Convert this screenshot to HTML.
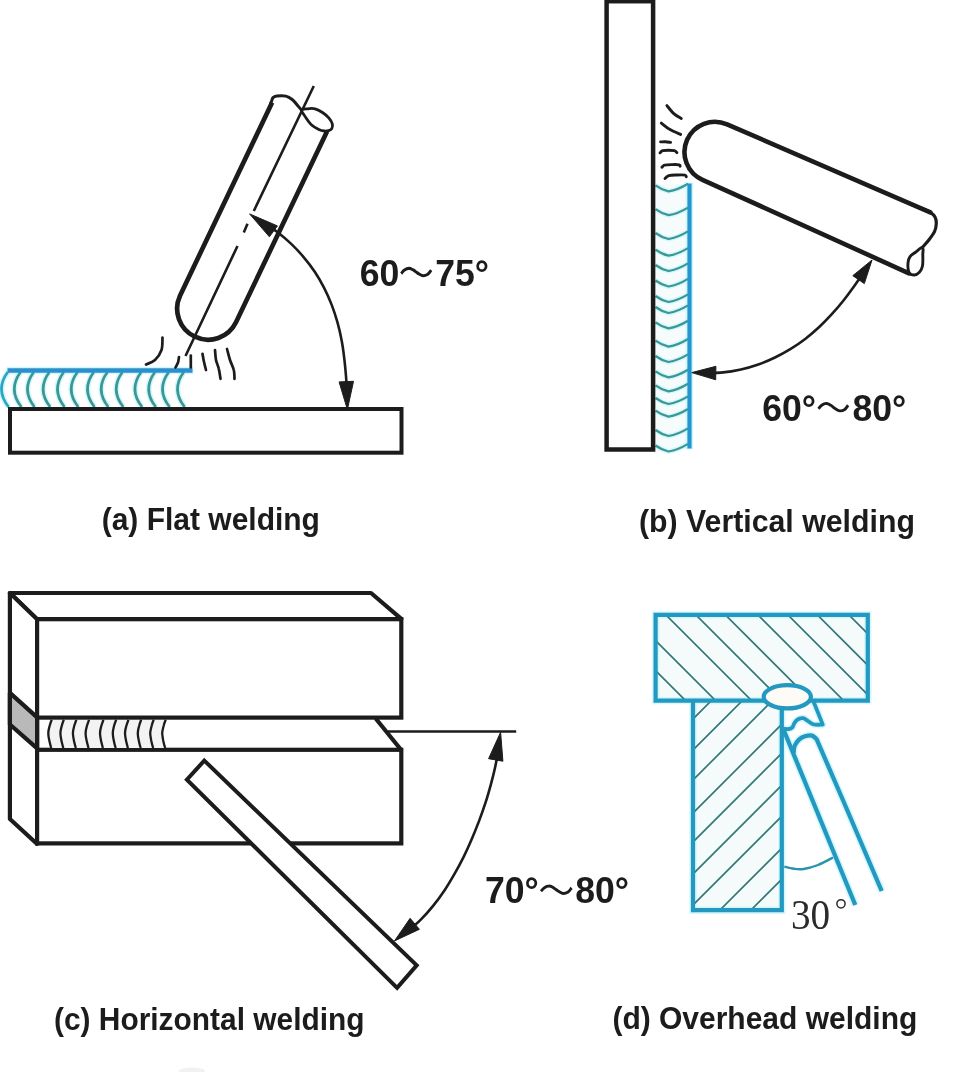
<!DOCTYPE html>
<html><head><meta charset="utf-8"><title>Welding positions</title>
<style>
html,body{margin:0;padding:0;background:#fff;}
body{width:960px;height:1072px;overflow:hidden;font-family:"Liberation Sans",sans-serif;}
svg{display:block;will-change:transform;}
</style></head><body>
<svg width="960" height="1072" viewBox="0 0 960 1072">
<rect width="960" height="1072" fill="#ffffff"/>
<ellipse cx="192" cy="1071" rx="13" ry="3.5" fill="#f1f1f1"/>
<path d="M7.8,372Q-5.2,389.5 8.6,407" fill="none" stroke="#c6f5fb" stroke-width="5.6" opacity="0.8"/>
<path d="M20.6,372Q7.6,389.5 21.4,407" fill="none" stroke="#c6f5fb" stroke-width="5.6" opacity="0.8"/>
<path d="M33.8,372Q20.8,389.5 34.5,407" fill="none" stroke="#c6f5fb" stroke-width="5.6" opacity="0.8"/>
<path d="M49.4,372Q36.4,389.5 50.2,407" fill="none" stroke="#c6f5fb" stroke-width="5.6" opacity="0.8"/>
<path d="M63.8,372Q50.8,389.5 64.5,407" fill="none" stroke="#c6f5fb" stroke-width="5.6" opacity="0.8"/>
<path d="M77.5,372Q64.5,389.5 78.3,407" fill="none" stroke="#c6f5fb" stroke-width="5.6" opacity="0.8"/>
<path d="M93.8,372Q80.8,389.5 94.5,407" fill="none" stroke="#c6f5fb" stroke-width="5.6" opacity="0.8"/>
<path d="M107.5,372Q94.5,389.5 108.3,407" fill="none" stroke="#c6f5fb" stroke-width="5.6" opacity="0.8"/>
<path d="M122.5,372Q109.5,389.5 123.3,407" fill="none" stroke="#c6f5fb" stroke-width="5.6" opacity="0.8"/>
<path d="M141.2,372Q128.2,389.5 142.1,407" fill="none" stroke="#c6f5fb" stroke-width="5.6" opacity="0.8"/>
<path d="M155,372Q142,389.5 155.8,407" fill="none" stroke="#c6f5fb" stroke-width="5.6" opacity="0.8"/>
<path d="M168.8,372Q155.8,389.5 169.6,407" fill="none" stroke="#c6f5fb" stroke-width="5.6" opacity="0.8"/>
<path d="M183.8,372Q170.8,389.5 184.6,407" fill="none" stroke="#c6f5fb" stroke-width="5.6" opacity="0.8"/>
<path d="M6.5,370.5H193.5" fill="none" stroke="#c6f5fb" stroke-width="7.6" opacity="0.8"/>
<path d="M7.8,372Q-5.2,389.5 8.6,407" fill="none" stroke="#2aa6c4" stroke-width="2.7" />
<path d="M20.6,372Q7.6,389.5 21.4,407" fill="none" stroke="#3a9796" stroke-width="2.7" />
<path d="M33.8,372Q20.8,389.5 34.5,407" fill="none" stroke="#3a9796" stroke-width="2.7" />
<path d="M49.4,372Q36.4,389.5 50.2,407" fill="none" stroke="#3a9796" stroke-width="2.7" />
<path d="M63.8,372Q50.8,389.5 64.5,407" fill="none" stroke="#3a9796" stroke-width="2.7" />
<path d="M77.5,372Q64.5,389.5 78.3,407" fill="none" stroke="#3a9796" stroke-width="2.7" />
<path d="M93.8,372Q80.8,389.5 94.5,407" fill="none" stroke="#3a9796" stroke-width="2.7" />
<path d="M107.5,372Q94.5,389.5 108.3,407" fill="none" stroke="#3a9796" stroke-width="2.7" />
<path d="M122.5,372Q109.5,389.5 123.3,407" fill="none" stroke="#3a9796" stroke-width="2.7" />
<path d="M141.2,372Q128.2,389.5 142.1,407" fill="none" stroke="#3a9796" stroke-width="2.7" />
<path d="M155,372Q142,389.5 155.8,407" fill="none" stroke="#3a9796" stroke-width="2.7" />
<path d="M168.8,372Q155.8,389.5 169.6,407" fill="none" stroke="#3a9796" stroke-width="2.7" />
<path d="M183.8,372Q170.8,389.5 184.6,407" fill="none" stroke="#3a9796" stroke-width="2.7" />
<path d="M7.5,370.5H192.5" fill="none" stroke="#2b8fce" stroke-width="4.5" />
<rect x="10" y="409" width="391.5" height="43.7" fill="#fff" stroke="#1c1c1c" stroke-width="4"/>
<path d="M272.1,102.5L180,295.7A31,31 0 0 0 236,322.3L327,131.4" fill="#fff" stroke="#1c1c1c" stroke-width="4.7" stroke-linecap="butt"/>
<path d="M270.6,103.4C270.8,103.1 271.1,102.4 271.5,101.4C271.9,100.4 272.1,98.5 273,97.6C273.9,96.7 274.7,96.2 276.8,96C278.9,95.8 283.3,95.5 285.9,96.1C288.5,96.7 290.6,98.3 292.5,99.8C294.4,101.3 295.7,103.2 297.2,105C298.7,106.8 300.9,109.4 301.6,110.3" fill="none" stroke="#1c1c1c" stroke-width="3" stroke-linecap="round"/>
<path d="M301.6,110.3C301.9,108.9 305.3,109 307.5,108.8C309.7,108.5 312.5,108.2 315,108.8C317.5,109.4 320.2,111 322.5,112.5C324.8,114 327.4,116.2 329,118.1C330.6,120 331.8,122 332.3,123.8C332.8,125.5 332.4,127.5 331.8,128.6C331.2,129.7 329.8,130.2 328.6,130.6C327.4,131 326,131.2 324.4,131C322.8,130.8 321,130.5 318.8,129.4C316.6,128.3 313.5,126.7 311.3,124.7C309.1,122.7 307.2,119.6 305.6,117.2C304,114.8 301.3,111.7 301.6,110.3Z" fill="none" stroke="#1c1c1c" stroke-width="2.8" />
<path d="M313.8,86L253.8,211M247.5,223.8L243.8,232.5M237.5,246L185.5,356" fill="none" stroke="#1c1c1c" stroke-width="2.6" />
<path d="M261.8,221.1C264.3,222.9 272.1,228 277,231.8C281.9,235.6 286.7,239.7 291.2,243.9C295.7,248.2 299.9,252.6 303.8,257.3C307.8,262 311.5,266.9 314.9,272C318.3,277.1 321.3,282.4 324.1,287.8C326.9,293.2 329.4,298.9 331.6,304.6C333.8,310.3 335.7,316.2 337.4,322.1C339.1,328.1 340.5,334.2 341.6,340.3C342.8,346.4 343.6,352.7 344.3,358.9C345.1,365.1 345.6,371.3 346.1,377.5C346.6,383.7 346.9,392.8 347.1,395.9" fill="none" stroke="#1c1c1c" stroke-width="2.6" />
<path d="M249.6,213.9L277.4,225.9L269.4,236.8Z" fill="#1c1c1c" stroke="#1c1c1c" stroke-width="1" stroke-linejoin="miter"/>
<path d="M347.4,409.6L339.1,381.9L353.5,381.3Z" fill="#1c1c1c" stroke="#1c1c1c" stroke-width="1" stroke-linejoin="miter"/>
<path d="M162.5,337.5C162.3,339.6 162.8,346.2 161.5,350C160.2,353.8 157.6,357.6 155,360C152.4,362.4 147.5,363.8 146,364.5" fill="none" stroke="#1c1c1c" stroke-width="2.7" stroke-linecap="round"/>
<path d="M179,357C178.8,357.9 178.6,360.8 178,362.5C177.4,364.2 175.9,366.7 175.5,367.5" fill="none" stroke="#1c1c1c" stroke-width="2.7" stroke-linecap="round"/>
<path d="M190.8,355.5C190.8,357.5 190.8,365.5 190.8,367.5" fill="none" stroke="#1c1c1c" stroke-width="2.7" stroke-linecap="round"/>
<path d="M202.5,353.8C202.7,355 203.2,358.3 203.8,361C204.4,363.7 205.6,368.5 206,370" fill="none" stroke="#1c1c1c" stroke-width="2.7" stroke-linecap="round"/>
<path d="M215,350C215.2,351.7 215.4,356.9 216,360C216.6,363.1 218.1,365.7 218.8,368.8C219.6,371.9 220.2,377.1 220.5,378.8" fill="none" stroke="#1c1c1c" stroke-width="2.7" stroke-linecap="round"/>
<path d="M227,349C227.5,350.8 228.9,356.5 230,360C231.1,363.5 233.1,366.9 233.8,370C234.6,373.1 234.4,377.3 234.5,378.8" fill="none" stroke="#1c1c1c" stroke-width="2.7" stroke-linecap="round"/>
<text transform="translate(359.8,285.8) scale(1.0000,1.0600)" font-family="'Liberation Sans', sans-serif" font-size="35.6" font-weight="bold" fill="#1c1c1c" >60</text>
<path d="M401.2,273.6C401.8,273 403.2,270.9 404.5,270C405.8,269.1 407.7,268.3 409.1,268.2C410.6,268.2 412,269.3 413.2,269.9C414.4,270.5 415.2,271.3 416.2,272C417.2,272.7 418.1,273.5 419.2,274.1C420.3,274.7 421.6,275.7 423,275.8C424.4,275.8 426.4,275.2 427.8,274.3C429.1,273.4 430.6,270.8 431.2,270.1" fill="none" stroke="#1c1c1c" stroke-width="2.9" />
<text transform="translate(435.2,285.8) scale(1.0000,1.0600)" font-family="'Liberation Sans', sans-serif" font-size="35.6" font-weight="bold" fill="#1c1c1c" >75°</text>
<text transform="translate(101.7,529.6) scale(1.0000,1.0300)" font-family="'Liberation Sans', sans-serif" font-size="30" font-weight="bold" fill="#1c1c1c" >(a) Flat welding</text>
<rect x="655" y="184" width="34" height="264" fill="#f6fcfc"/>
<path d="M689.5,182.5V449.5" fill="none" stroke="#c6f5fb" stroke-width="7.4" opacity="0.8"/>
<path d="M655.5,185.4Q662,190 668.5,191.4Q678,189.9 688,183.8" fill="none" stroke="#c6f5fb" stroke-width="5" opacity="0.7"/>
<path d="M655.5,209.2Q662,213.8 668.5,215.2Q678,213.7 688,207.6" fill="none" stroke="#c6f5fb" stroke-width="5" opacity="0.7"/>
<path d="M655.5,233Q662,237.6 668.5,239Q678,237.5 688,231.4" fill="none" stroke="#c6f5fb" stroke-width="5" opacity="0.7"/>
<path d="M655.5,249.7Q662,254.3 668.5,255.7Q678,254.2 688,248.1" fill="none" stroke="#c6f5fb" stroke-width="5" opacity="0.7"/>
<path d="M655.5,265Q662,269.6 668.5,271Q678,269.5 688,263.4" fill="none" stroke="#c6f5fb" stroke-width="5" opacity="0.7"/>
<path d="M655.5,280.5Q662,285.1 668.5,286.5Q678,285 688,278.9" fill="none" stroke="#c6f5fb" stroke-width="5" opacity="0.7"/>
<path d="M655.5,296Q662,300.6 668.5,302Q678,300.5 688,294.4" fill="none" stroke="#c6f5fb" stroke-width="5" opacity="0.7"/>
<path d="M655.5,307Q662,311.6 668.5,313Q678,311.5 688,305.4" fill="none" stroke="#c6f5fb" stroke-width="5" opacity="0.7"/>
<path d="M655.5,322.4Q662,327 668.5,328.4Q678,326.9 688,320.8" fill="none" stroke="#c6f5fb" stroke-width="5" opacity="0.7"/>
<path d="M655.5,340.6Q662,345.2 668.5,346.6Q678,345.1 688,339" fill="none" stroke="#c6f5fb" stroke-width="5" opacity="0.7"/>
<path d="M655.5,356Q662,360.6 668.5,362Q678,360.5 688,354.4" fill="none" stroke="#c6f5fb" stroke-width="5" opacity="0.7"/>
<path d="M655.5,371.4Q662,376 668.5,377.4Q678,375.9 688,369.8" fill="none" stroke="#c6f5fb" stroke-width="5" opacity="0.7"/>
<path d="M655.5,385.4Q662,390 668.5,391.4Q678,389.9 688,383.8" fill="none" stroke="#c6f5fb" stroke-width="5" opacity="0.7"/>
<path d="M655.5,398Q662,402.6 668.5,404Q678,402.5 688,396.4" fill="none" stroke="#c6f5fb" stroke-width="5" opacity="0.7"/>
<path d="M655.5,410.6Q662,415.2 668.5,416.6Q678,415.1 688,409" fill="none" stroke="#c6f5fb" stroke-width="5" opacity="0.7"/>
<path d="M655.5,430Q662,434.6 668.5,436Q678,434.5 688,428.4" fill="none" stroke="#c6f5fb" stroke-width="5" opacity="0.7"/>
<path d="M655.5,445.5Q662,450.1 668.5,451.5Q678,450 688,443.9" fill="none" stroke="#c6f5fb" stroke-width="5" opacity="0.7"/>
<path d="M655.5,185.4Q662,190 668.5,191.4Q678,189.9 688,183.8" fill="none" stroke="#3a9796" stroke-width="2.2" />
<path d="M655.5,209.2Q662,213.8 668.5,215.2Q678,213.7 688,207.6" fill="none" stroke="#3a9796" stroke-width="2.2" />
<path d="M655.5,233Q662,237.6 668.5,239Q678,237.5 688,231.4" fill="none" stroke="#3a9796" stroke-width="2.2" />
<path d="M655.5,249.7Q662,254.3 668.5,255.7Q678,254.2 688,248.1" fill="none" stroke="#3a9796" stroke-width="2.2" />
<path d="M655.5,265Q662,269.6 668.5,271Q678,269.5 688,263.4" fill="none" stroke="#3a9796" stroke-width="2.2" />
<path d="M655.5,280.5Q662,285.1 668.5,286.5Q678,285 688,278.9" fill="none" stroke="#3a9796" stroke-width="2.2" />
<path d="M655.5,296Q662,300.6 668.5,302Q678,300.5 688,294.4" fill="none" stroke="#3a9796" stroke-width="2.2" />
<path d="M655.5,307Q662,311.6 668.5,313Q678,311.5 688,305.4" fill="none" stroke="#3a9796" stroke-width="2.2" />
<path d="M655.5,322.4Q662,327 668.5,328.4Q678,326.9 688,320.8" fill="none" stroke="#3a9796" stroke-width="2.2" />
<path d="M655.5,340.6Q662,345.2 668.5,346.6Q678,345.1 688,339" fill="none" stroke="#3a9796" stroke-width="2.2" />
<path d="M655.5,356Q662,360.6 668.5,362Q678,360.5 688,354.4" fill="none" stroke="#3a9796" stroke-width="2.2" />
<path d="M655.5,371.4Q662,376 668.5,377.4Q678,375.9 688,369.8" fill="none" stroke="#3a9796" stroke-width="2.2" />
<path d="M655.5,385.4Q662,390 668.5,391.4Q678,389.9 688,383.8" fill="none" stroke="#3a9796" stroke-width="2.2" />
<path d="M655.5,398Q662,402.6 668.5,404Q678,402.5 688,396.4" fill="none" stroke="#3a9796" stroke-width="2.2" />
<path d="M655.5,410.6Q662,415.2 668.5,416.6Q678,415.1 688,409" fill="none" stroke="#3a9796" stroke-width="2.2" />
<path d="M655.5,430Q662,434.6 668.5,436Q678,434.5 688,428.4" fill="none" stroke="#3a9796" stroke-width="2.2" />
<path d="M655.5,445.5Q662,450.1 668.5,451.5Q678,450 688,443.9" fill="none" stroke="#3a9796" stroke-width="2.2" />
<path d="M689.5,183.5V448.5" fill="none" stroke="#2397cd" stroke-width="4.2" />
<rect x="606.6" y="1.2" width="46.5" height="448.3" fill="#fff" stroke="#1c1c1c" stroke-width="4.5"/>
<path d="M930.3,212.3L727.1,124.4A30.3,30.3 0 0 0 702.5,179.8L909,273.3L922.5,247.3Z" fill="#fff" stroke="none"/>
<path d="M930.3,212.3L727.1,124.4A30.3,30.3 0 0 0 702.5,179.8L909,273.3" fill="none" stroke="#1c1c1c" stroke-width="4.6" stroke-linecap="round"/>
<path d="M921.1,208.3C922.6,209 928,210.9 930.3,212.3C932.6,213.8 934,215.1 935,217C936,218.9 936.4,221.1 936.3,223.5C936.2,225.9 935.8,228.9 934.5,231.7C933.2,234.4 930.8,237.4 928.8,240C926.8,242.6 923.5,246.1 922.5,247.3" fill="none" stroke="#1c1c1c" stroke-width="3.2" stroke-linecap="round"/>
<path d="M922.5,247.3C921.2,247 917.3,250.9 915.2,252.5C913.1,254.1 911.2,254.9 910,256.7C908.8,258.4 908.2,260.4 908,263C907.8,265.6 908,270.3 909,272.3C910,274.3 912.5,275 914.2,275C915.9,275 918,273.8 919.4,272.3C920.8,270.8 921.9,268.9 922.5,266C923.1,263.1 922.8,257.7 922.8,254.6C922.8,251.5 923.8,247.7 922.5,247.3Z" fill="#fff" stroke="#1c1c1c" stroke-width="2.9" />
<path d="M666.9,105.6C668,106.9 671.4,111.4 673.8,113.6C676.2,115.8 680,117.7 681.3,118.5" fill="none" stroke="#1c1c1c" stroke-width="2.9" stroke-linecap="round"/>
<path d="M661.3,123.1C662.8,124.2 666.8,127.7 670,129.6C673.2,131.5 678.8,133.6 680.6,134.4" fill="none" stroke="#1c1c1c" stroke-width="2.9" stroke-linecap="round"/>
<path d="M660.6,141.9C661.4,141.9 663.8,141.6 665.5,141.7C667.2,141.8 669.8,142.3 670.6,142.4" fill="none" stroke="#1c1c1c" stroke-width="2.9" stroke-linecap="round"/>
<path d="M660,152.8C660.4,152.5 661.2,151.1 662.6,150.7C664,150.3 666.5,150.3 668.5,150.3C670.5,150.3 673,150.3 674.4,150.7C675.8,151.1 676.5,152.3 676.9,152.6" fill="none" stroke="#1c1c1c" stroke-width="2.9" stroke-linecap="round"/>
<path d="M661.9,167.2C662.4,166.9 662.9,165.6 664.6,165.2C666.3,164.8 669.6,164.7 672,164.6C674.4,164.5 677.9,164.5 679.2,164.8C680.6,165.1 680,166 680.1,166.2" fill="none" stroke="#1c1c1c" stroke-width="2.9" stroke-linecap="round"/>
<path d="M665,178.5C665.6,178 666.8,176.3 668.8,175.7C670.8,175.1 674.3,175.1 677,175C679.7,174.9 683.5,174.8 685,175.1C686.5,175.4 686.1,176.5 686.3,176.8" fill="none" stroke="#1c1c1c" stroke-width="2.9" stroke-linecap="round"/>
<path d="M864.5,271.2C862.8,273.7 857.8,281.1 854.3,286C850.8,290.9 847.2,295.8 843.5,300.5C839.8,305.2 835.8,309.8 831.8,314.2C827.8,318.6 823.6,322.9 819.2,327C814.8,331.1 810.2,335.1 805.5,338.7C800.8,342.3 795.8,345.8 790.7,348.9C785.6,352 780.4,354.9 775,357.5C769.6,360.1 764,362.4 758.3,364.4C752.6,366.4 746.8,368.1 740.9,369.4C735,370.7 729.1,371.8 723.1,372.4C717.1,373 708.1,373.1 705.1,373.3" fill="none" stroke="#1c1c1c" stroke-width="2.6" />
<path d="M872,260L864.3,283.6L852.8,275.7Z" fill="#1c1c1c" stroke="#1c1c1c" stroke-width="1" stroke-linejoin="miter"/>
<path d="M691.8,372.6L715.9,366.3L715.7,379.8Z" fill="#1c1c1c" stroke="#1c1c1c" stroke-width="1" stroke-linejoin="miter"/>
<text transform="translate(762.2,421.1) scale(1.0000,1.0600)" font-family="'Liberation Sans', sans-serif" font-size="35.6" font-weight="bold" fill="#1c1c1c" >60°</text>
<path d="M818.4,408.8C818.9,408.2 820.4,406.1 821.7,405.2C823,404.3 824.8,403.5 826.3,403.4C827.7,403.4 829.1,404.5 830.3,405.1C831.4,405.7 832.3,406.5 833.2,407.2C834.2,407.9 835.1,408.7 836.2,409.3C837.3,409.9 838.6,410.9 840,410.9C841.4,411 843.3,410.4 844.7,409.5C846,408.6 847.5,406 848.1,405.3" fill="none" stroke="#1c1c1c" stroke-width="2.9" />
<text transform="translate(852.4,421.1) scale(1.0000,1.0600)" font-family="'Liberation Sans', sans-serif" font-size="35.6" font-weight="bold" fill="#1c1c1c" >80°</text>
<text transform="translate(638.9,531.8) scale(1.0000,1.0300)" font-family="'Liberation Sans', sans-serif" font-size="30.3" font-weight="bold" fill="#1c1c1c" >(b) Vertical welding</text>
<path d="M9.9,593L371,593L401.3,618.9L37.1,619.2Z" fill="#fff" stroke="#1c1c1c" stroke-width="4.2" stroke-linejoin="round"/>
<path d="M9.9,593L37.1,619.2L37.1,844L9.9,819Z" fill="#fff" stroke="#1c1c1c" stroke-width="4.2" stroke-linejoin="round"/>
<path d="M9.9,692.9L37.1,717.4L37.1,748.4L9.9,724.5Z" fill="#b9b9b9" stroke="#1c1c1c" stroke-width="4.2" stroke-linejoin="round"/>
<path d="M375.7,718.5L401,749.8" fill="none" stroke="#1c1c1c" stroke-width="4.2" />
<path d="M387.5,731.5H516.2" fill="none" stroke="#1c1c1c" stroke-width="2.3" />
<rect x="37.1" y="619.2" width="364.2" height="98.4" fill="#fff" stroke="#1c1c1c" stroke-width="4.2"/>
<rect x="37.1" y="749.8" width="364.2" height="93.6" fill="#fff" stroke="#1c1c1c" stroke-width="4.2"/>
<path d="M51.5,720 L48.3,733 L51,748 H165.2 L162.3,733 L165.6,720Z" fill="#f3f3f3"/>
<path d="M51.7,719.8C51.3,720.8 50.2,723.8 49.6,726C49,728.2 48.3,730.6 48.3,733C48.2,735.4 48.8,738 49.3,740.5C49.8,743 50.9,746.8 51.2,748" fill="none" stroke="#1c1c1c" stroke-width="2.3" />
<path d="M63.8,719.8C63.4,720.8 62.3,723.8 61.7,726C61.1,728.2 60.4,730.6 60.4,733C60.4,735.4 60.9,738 61.4,740.5C61.9,743 63,746.8 63.3,748" fill="none" stroke="#1c1c1c" stroke-width="2.3" />
<path d="M76.3,719.8C76,720.8 74.8,723.8 74.2,726C73.6,728.2 73,730.6 72.9,733C72.9,735.4 73.4,738 73.9,740.5C74.4,743 75.5,746.8 75.8,748" fill="none" stroke="#1c1c1c" stroke-width="2.3" />
<path d="M89,719.8C88.7,720.8 87.5,723.8 86.9,726C86.3,728.2 85.6,730.6 85.6,733C85.5,735.4 86.1,738 86.6,740.5C87.1,743 88.2,746.8 88.5,748" fill="none" stroke="#1c1c1c" stroke-width="2.3" />
<path d="M103.4,719.8C103.1,720.8 101.9,723.8 101.3,726C100.7,728.2 100,730.6 100,733C100,735.4 100.5,738 101,740.5C101.5,743 102.6,746.8 102.9,748" fill="none" stroke="#1c1c1c" stroke-width="2.3" />
<path d="M116.2,719.8C115.8,720.8 114.6,723.8 114,726C113.5,728.2 112.8,730.6 112.8,733C112.7,735.4 113.3,738 113.8,740.5C114.2,743 115.3,746.8 115.7,748" fill="none" stroke="#1c1c1c" stroke-width="2.3" />
<path d="M128.4,719.8C128.1,720.8 126.9,723.8 126.3,726C125.7,728.2 125,730.6 125,733C125,735.4 125.5,738 126,740.5C126.5,743 127.6,746.8 127.9,748" fill="none" stroke="#1c1c1c" stroke-width="2.3" />
<path d="M141.2,719.8C140.8,720.8 139.6,723.8 139.1,726C138.5,728.2 137.8,730.6 137.8,733C137.7,735.4 138.3,738 138.8,740.5C139.2,743 140.3,746.8 140.7,748" fill="none" stroke="#1c1c1c" stroke-width="2.3" />
<path d="M153.7,719.8C153.3,720.8 152.1,723.8 151.6,726C151,728.2 150.3,730.6 150.2,733C150.2,735.4 150.8,738 151.2,740.5C151.7,743 152.8,746.8 153.2,748" fill="none" stroke="#1c1c1c" stroke-width="2.3" />
<path d="M165.7,719.8C165.3,720.8 164.1,723.8 163.6,726C163,728.2 162.3,730.6 162.2,733C162.2,735.4 162.8,738 163.2,740.5C163.7,743 164.8,746.8 165.2,748" fill="none" stroke="#1c1c1c" stroke-width="2.3" />
<path d="M204.3,760.6L416.7,965.3L397.1,987.9L186.9,779.6Z" fill="#fff" stroke="#1c1c1c" stroke-width="4" stroke-linejoin="miter"/>
<path d="M498.9,746.7C498.3,749.9 496.8,759.3 495.5,765.6C494.2,771.9 492.6,778.1 490.9,784.3C489.2,790.5 487.5,796.6 485.5,802.7C483.5,808.8 481.4,814.9 479.1,820.9C476.8,826.9 474.4,832.9 471.9,838.8C469.4,844.7 466.8,850.5 463.9,856.3C461,862.1 458,867.8 454.8,873.4C451.6,879 448.4,884.6 444.8,889.9C441.2,895.2 437.5,900.4 433.5,905.4C429.5,910.4 425.3,915.2 420.8,919.7C416.3,924.2 408.8,930.4 406.4,932.5" fill="none" stroke="#1c1c1c" stroke-width="2.6" />
<path d="M500.6,732.2L502.9,761.2L488.6,758.7Z" fill="#1c1c1c" stroke="#1c1c1c" stroke-width="1" stroke-linejoin="miter"/>
<path d="M394.5,940.9L410.1,918.3L419.4,929.3Z" fill="#1c1c1c" stroke="#1c1c1c" stroke-width="1" stroke-linejoin="miter"/>
<text transform="translate(485,903.2) scale(1.0000,1.0600)" font-family="'Liberation Sans', sans-serif" font-size="35.6" font-weight="bold" fill="#1c1c1c" >70°</text>
<path d="M541,891.3C541.6,890.7 543,888.6 544.4,887.7C545.7,886.8 547.6,886 549.1,886C550.6,885.9 552,887 553.2,887.6C554.4,888.2 555.3,889 556.3,889.7C557.3,890.4 558.2,891.2 559.4,891.8C560.5,892.4 561.8,893.4 563.2,893.5C564.7,893.5 566.7,892.9 568.1,892C569.5,891.1 571,888.5 571.6,887.9" fill="none" stroke="#1c1c1c" stroke-width="2.9" />
<text transform="translate(575.2,903.2) scale(1.0000,1.0600)" font-family="'Liberation Sans', sans-serif" font-size="35.6" font-weight="bold" fill="#1c1c1c" >80°</text>
<text transform="translate(54,1029.8) scale(1.0000,1.0300)" font-family="'Liberation Sans', sans-serif" font-size="29.9" font-weight="bold" fill="#1c1c1c" >(c) Horizontal welding</text>
<defs>
<clipPath id="cpTop"><rect x="655.6" y="614.9" width="212.2" height="85.7"/></clipPath>
<clipPath id="cpStem"><rect x="693" y="700.6" width="88.8" height="209.6"/></clipPath>
</defs>
<rect x="655.6" y="614.9" width="212.2" height="85.7" fill="#f5fbfb"/>
<rect x="693" y="700.6" width="88.8" height="209.6" fill="#f5fbfb"/>
<path d="M655.6,614.9H867.8V700.6H655.6Z" fill="none" stroke="#c6f5fb" stroke-width="7.4" stroke-linejoin="miter" opacity="0.75"/>
<path d="M693,700.6V910.2H781.8V700.6" fill="none" stroke="#c6f5fb" stroke-width="7.4" stroke-linejoin="miter" opacity="0.75"/>
<path d="M783.3,729L855.3,905" fill="none" stroke="#c6f5fb" stroke-width="7.5" stroke-linejoin="round" opacity="0.75"/>
<path d="M793.6,752.5C793.8,751.4 793.7,748.1 794.6,746C795.5,743.9 797.3,741.2 799,739.6C800.7,738 802.8,737 805,736.3C807.2,735.6 810.1,735.1 812,735.6C813.9,736.1 815.8,738.6 816.6,739.2L842.9,800L881.7,891" fill="none" stroke="#c6f5fb" stroke-width="7.5" stroke-linejoin="round" opacity="0.75"/>
<path d="M812.7,699.5L822.8,724.6C821.3,724.6 816.2,725 813.8,724.5C811.4,724 810.2,722.4 808.5,721.4C806.8,720.4 805,718.6 803.3,718.2C801.6,717.9 799.6,718.5 798.1,719.3C796.6,720.1 795.5,721.5 794.5,722.9C793.5,724.2 793.4,726.4 792.4,727.4C791.4,728.4 790.3,728.8 788.8,729C787.3,729.2 784.4,728.8 783.5,728.8" fill="none" stroke="#c6f5fb" stroke-width="7" stroke-linejoin="round" opacity="0.75"/>
<g clip-path="url(#cpTop)"><path d="M600,615L900,915M600,585L900,885M600,549L900,849M600,519L900,819M600,489.5L900,789.5M600,457L900,757M600,427L900,727M600,397.5L900,697.5M600,366L900,666" fill="none" stroke="#34797a" stroke-width="1.7" /></g>
<g clip-path="url(#cpStem)"><path d="M680,732L800,612M680,763L800,643M680,793L800,673M680,826L800,706M680,855L800,735M680,887L800,767M680,918L800,798M680,950L800,830M680,981L800,861" fill="none" stroke="#34797a" stroke-width="1.7" /></g>
<path d="M655.6,614.9H867.8V700.6H655.6Z" fill="none" stroke="#2398c0" stroke-width="4.2" stroke-linejoin="miter"/>
<path d="M693,700.6V910.2H781.8V700.6" fill="none" stroke="#2398c0" stroke-width="4.2" stroke-linejoin="miter"/>
<path d="M783.3,729L855.3,905" fill="none" stroke="#2398c0" stroke-width="4.3" stroke-linejoin="round"/>
<path d="M793.6,752.5C793.8,751.4 793.7,748.1 794.6,746C795.5,743.9 797.3,741.2 799,739.6C800.7,738 802.8,737 805,736.3C807.2,735.6 810.1,735.1 812,735.6C813.9,736.1 815.8,738.6 816.6,739.2L842.9,800L881.7,891" fill="none" stroke="#2398c0" stroke-width="4.3" stroke-linejoin="round"/>
<path d="M812.7,699.5L822.8,724.6C821.3,724.6 816.2,725 813.8,724.5C811.4,724 810.2,722.4 808.5,721.4C806.8,720.4 805,718.6 803.3,718.2C801.6,717.9 799.6,718.5 798.1,719.3C796.6,720.1 795.5,721.5 794.5,722.9C793.5,724.2 793.4,726.4 792.4,727.4C791.4,728.4 790.3,728.8 788.8,729C787.3,729.2 784.4,728.8 783.5,728.8" fill="none" stroke="#2398c0" stroke-width="3.8" stroke-linejoin="round"/>
<ellipse cx="787.3" cy="696.8" rx="23.6" ry="11.6" fill="#fcfbf5" stroke="#2398c0" stroke-width="4.2"/>
<path d="M784.3,866.6C785.9,867 790.8,868.4 794,868.8C797.2,869.2 799.8,869.6 803.8,869C807.8,868.4 813.1,866.9 818,865C822.9,863.1 830.5,858.8 833,857.5" fill="none" stroke="#2a94ad" stroke-width="2.4" />
<text transform="translate(791,928.7) scale(1.0000,1.0900)" font-family="'Liberation Serif', serif" font-size="39.2" font-weight="normal" fill="#2b2b2b" >30</text>
<circle cx="841" cy="903.8" r="4.1" fill="none" stroke="#2b2b2b" stroke-width="1.5"/>
<text transform="translate(612.4,1028.6) scale(1.0000,1.0300)" font-family="'Liberation Sans', sans-serif" font-size="30" font-weight="bold" fill="#1c1c1c" >(d) Overhead welding</text>
</svg>
</body></html>
